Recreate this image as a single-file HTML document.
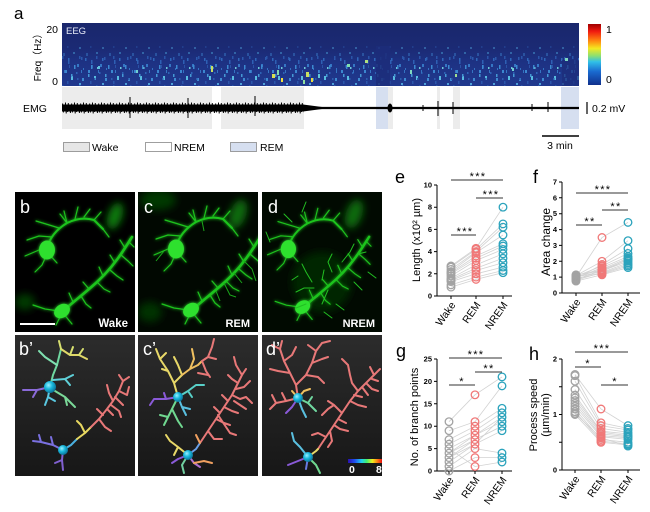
<!DOCTYPE html>
<html><head><meta charset="utf-8">
<style>
html,body{margin:0;padding:0;background:#fff;}
svg{display:block;font-family:"Liberation Sans","Noto Sans CJK SC",sans-serif;}
</style></head>
<body>
<svg width="650" height="512" viewBox="0 0 650 512" xmlns="http://www.w3.org/2000/svg">
<defs>
  <linearGradient id="spg" x1="0" y1="0" x2="0" y2="1">
    <stop offset="0" stop-color="#1a276c"/>
    <stop offset="0.4" stop-color="#1b2a74"/>
    <stop offset="0.6" stop-color="#1d3182"/>
    <stop offset="1" stop-color="#20398e"/>
  </linearGradient>
  <pattern id="spk" width="23" height="36" patternUnits="userSpaceOnUse" x="62" y="50">
    <rect x="1" y="3" width="2" height="3" fill="#3a80cc"/>
    <rect x="6" y="10" width="1.5" height="4" fill="#2e60b4"/>
    <rect x="11" y="2" width="2" height="2" fill="#4aa8dc"/>
    <rect x="15" y="14" width="2" height="3" fill="#3576c4"/>
    <rect x="19" y="7" width="1.5" height="3" fill="#2c58ac"/>
    <rect x="3" y="20" width="2" height="3" fill="#3b86cf"/>
    <rect x="9" y="26" width="2" height="4" fill="#58bce0"/>
    <rect x="14" y="22" width="1.5" height="2" fill="#2e64b6"/>
    <rect x="20" y="28" width="2" height="3" fill="#3d8ad0"/>
    <rect x="5" y="31" width="1.5" height="3" fill="#2b56aa"/>
    <rect x="17" y="33" width="2" height="2" fill="#4da0d8"/>
    <rect x="12" y="17" width="1.5" height="2" fill="#6cc8d8"/>
    <rect x="7" y="15" width="1" height="3" fill="#2a52a6"/>
    <rect x="21" y="18" width="1" height="2" fill="#3370c0"/>
  </pattern>
  <pattern id="spk2" width="17" height="29" patternUnits="userSpaceOnUse" x="66" y="53">
    <rect x="2" y="5" width="1.5" height="3" fill="#2f66b8"/>
    <rect x="8" y="12" width="1.5" height="4" fill="#3c8ad0"/>
    <rect x="13" y="3" width="1.5" height="3" fill="#2a54a8"/>
    <rect x="5" y="21" width="1.5" height="3" fill="#4498d4"/>
    <rect x="11" y="25" width="1.5" height="2" fill="#2c5cae"/>
    <rect x="15" y="17" width="1" height="3" fill="#3474c2"/>
  </pattern>
  <linearGradient id="cbar" x1="0" y1="0" x2="0" y2="1">
    <stop offset="0" stop-color="#a00000"/>
    <stop offset="0.12" stop-color="#f01a10"/>
    <stop offset="0.28" stop-color="#ff8a10"/>
    <stop offset="0.4" stop-color="#f4e820"/>
    <stop offset="0.52" stop-color="#8ee070"/>
    <stop offset="0.62" stop-color="#30c0e8"/>
    <stop offset="0.78" stop-color="#1a6ad0"/>
    <stop offset="1" stop-color="#10308c"/>
  </linearGradient>
  <linearGradient id="hbar" x1="0" y1="0" x2="1" y2="0">
    <stop offset="0" stop-color="#2a10b0"/>
    <stop offset="0.2" stop-color="#2050f0"/>
    <stop offset="0.4" stop-color="#20d0f0"/>
    <stop offset="0.55" stop-color="#40f070"/>
    <stop offset="0.72" stop-color="#f0f020"/>
    <stop offset="0.86" stop-color="#ff8010"/>
    <stop offset="1" stop-color="#e81010"/>
  </linearGradient>
  <pattern id="emgA" width="9" height="16" patternUnits="userSpaceOnUse" x="62" y="100">
    <path d="M0,8 L0.7,3.5 L1.4,12.5 L2.1,5 L2.8,11 L3.5,2.5 L4.2,13.5 L4.9,4.5 L5.6,12 L6.3,3 L7,11.5 L7.7,5.5 L8.4,13 L9,8" stroke="#000" stroke-width="0.9" fill="none"/>
    <rect x="0" y="4.5" width="9" height="7" fill="#000"/>
  </pattern>
  <linearGradient id="tg" x1="0" y1="0" x2="0" y2="1">
    <stop offset="0" stop-color="#2c2c2c"/>
    <stop offset="1" stop-color="#171717"/>
  </linearGradient>
  <radialGradient id="sg" cx="0.38" cy="0.35" r="0.7">
    <stop offset="0" stop-color="#9af0ff"/>
    <stop offset="0.45" stop-color="#18b8dc"/>
    <stop offset="1" stop-color="#0a6a90"/>
  </radialGradient>
  <filter id="glow" x="-20%" y="-20%" width="140%" height="140%">
    <feGaussianBlur stdDeviation="1.6" result="b"/>
    <feMerge><feMergeNode in="b"/><feMergeNode in="SourceGraphic"/></feMerge>
  </filter>
  <filter id="soft" x="-50%" y="-50%" width="200%" height="200%">
    <feGaussianBlur stdDeviation="4"/>
  </filter>
  <g id="mc" fill="none" stroke-linecap="round" stroke-linejoin="round">
    <g stroke="#1fc41f">
      <path stroke-width="2.6" d="M47,120 C58,110 70,101 82,90 C94,79 103,67 110,56 L117,45"/>
      <path stroke-width="2" d="M32,56 C35,45 42,37 52,31 C60,27 69,25 79,28 L88,37"/>
      <path stroke-width="1.2" d="M58,110 L54,101 M66,104 L71,112 M74,97 L68,90 M82,90 L89,97 M88,84 L84,75 M95,78 L102,84 M100,71 L95,63 M106,63 L113,69 M110,56 L105,48 M114,50 L119,55 M52,31 L49,19 M60,27 L63,15 M69,25 L75,17 M44,36 L31,32 L21,29 M37,45 L24,44 L12,48 M79,28 L86,20 M32,62 L27,73 L20,80 M34,62 L42,71 M24,58 L10,64 M47,121 L41,133 M48,121 L57,132 M44,119 L30,117 L18,113 M88,37 L94,45 M52,31 L45,22 M71,112 L76,116 M89,97 L95,100 M102,84 L108,88 M113,69 L118,74"/>
    </g>
    <ellipse cx="32" cy="58" rx="8" ry="9.5" fill="#2ee02e"/>
    <ellipse cx="47" cy="119" rx="8.5" ry="6.5" transform="rotate(-35 47 119)" fill="#2ee02e"/>
  </g>
</defs>

<!-- ===== Panel a ===== -->
<text x="14" y="19" font-size="17">a</text>
<text x="58" y="33" font-size="10.5" text-anchor="end">20</text>
<text x="58" y="85" font-size="10.5" text-anchor="end">0</text>
<text transform="translate(41,55) rotate(-90)" font-size="10" text-anchor="middle">Freq（Hz）</text>

<rect x="62" y="23" width="517" height="63" fill="url(#spg)"/>
<rect x="62" y="56" width="517" height="30" fill="url(#spk)"/>
<rect x="62" y="53" width="517" height="33" fill="url(#spk2)"/>
<rect x="62" y="46" width="517" height="10" fill="url(#spk)" opacity="0.45"/>
<!-- darker gaps -->
<rect x="376" y="46" width="14" height="40" fill="#1c2d7a" opacity="0.85"/>
<rect x="562" y="60" width="17" height="26" fill="#1c2d7a" opacity="0.7"/>
<!-- bright spots -->
<g>
  <rect x="211" y="66" width="2" height="6" fill="#c8e060"/>
  <rect x="272" y="74" width="3" height="4" fill="#d8e050"/>
  <rect x="277" y="70" width="2" height="5" fill="#80d8b0"/>
  <rect x="281" y="78" width="2" height="4" fill="#f0e040"/>
  <rect x="306" y="72" width="3" height="5" fill="#c8e060"/>
  <rect x="311" y="78" width="2" height="4" fill="#e8d840"/>
  <rect x="303" y="80" width="2" height="4" fill="#90e0a0"/>
  <rect x="318" y="74" width="2" height="4" fill="#60c8d8"/>
  <rect x="347" y="64" width="3" height="3" fill="#80e0b0"/>
  <rect x="365" y="60" width="3" height="3" fill="#b0e080"/>
  <rect x="410" y="70" width="2" height="4" fill="#80d8c0"/>
  <rect x="455" y="74" width="2" height="3" fill="#a0e090"/>
  <rect x="512" y="68" width="2" height="3" fill="#70d0d0"/>
  <rect x="565" y="58" width="3" height="3" fill="#80d8c0"/>
  <rect x="136" y="70" width="2" height="3" fill="#70d0d0"/>
  <rect x="98" y="66" width="2" height="3" fill="#60c0e0"/>
</g>
<text x="66" y="34" font-size="9.5" fill="#e8ecf8">EEG</text>

<rect x="588" y="24" width="13" height="61" fill="url(#cbar)"/>
<text x="606" y="33" font-size="10.5">1</text>
<text x="606" y="83" font-size="10.5">0</text>

<!-- state bands -->
<rect x="62" y="87" width="150" height="42" fill="#ececec"/>
<rect x="221" y="87" width="83" height="42" fill="#ececec"/>
<rect x="376" y="87" width="12" height="42" fill="#d6dff0"/>
<rect x="388" y="87" width="5" height="42" fill="#ececec"/>
<rect x="437" y="87" width="3" height="42" fill="#ececec"/>
<rect x="453" y="87" width="7" height="42" fill="#ececec"/>
<rect x="561" y="87" width="18" height="42" fill="#d6dff0"/>

<text x="23" y="112" font-size="10.5">EMG</text>
<!-- EMG trace -->
<rect x="62" y="100" width="242" height="16" fill="url(#emgA)"/>
<polygon points="303,104.5 322,107 322,109 303,111.5" fill="#000"/>
<rect x="212" y="106.5" width="9" height="3" fill="#000"/>
<line x1="304" y1="108" x2="579" y2="108" stroke="#000" stroke-width="2.2"/>
<g stroke="#000" stroke-width="1">
  <line x1="130" y1="97" x2="130" y2="118"/>
  <line x1="255" y1="96" x2="255" y2="116"/>
  <line x1="188" y1="98" x2="188" y2="118"/>
  <line x1="438" y1="101" x2="438" y2="116"/>
  <line x1="453" y1="102" x2="453" y2="114"/>
  <line x1="532" y1="104" x2="532" y2="111"/>
  <line x1="548" y1="102" x2="548" y2="112"/>
  <line x1="423" y1="105" x2="423" y2="111"/>
</g>
<ellipse cx="390" cy="108" rx="2.5" ry="4.5" fill="#000"/>
<line x1="587" y1="102" x2="587" y2="114" stroke="#000" stroke-width="1.2"/>
<text x="592" y="112" font-size="10.5">0.2 mV</text>

<line x1="542" y1="136" x2="579" y2="136" stroke="#000" stroke-width="1.5"/>
<text x="560" y="149" font-size="10.5" text-anchor="middle">3 min</text>

<!-- legend -->
<rect x="63.5" y="142.5" width="26" height="9" fill="#e6e6e6" stroke="#888" stroke-width="0.8"/>
<text x="92" y="151" font-size="10.5">Wake</text>
<rect x="145.5" y="142.5" width="26" height="9" fill="#fff" stroke="#888" stroke-width="0.8"/>
<text x="174" y="151" font-size="10.5">NREM</text>
<rect x="230.5" y="142.5" width="26" height="9" fill="#d6dff0" stroke="#888" stroke-width="0.8"/>
<text x="260" y="151" font-size="10.5">REM</text>

<!-- ===== Micro panels ===== -->
<svg x="15" y="192" width="120" height="140">
  <rect width="120" height="140" fill="#000"/>
  <ellipse cx="100" cy="24" rx="7" ry="14" transform="rotate(20 100 24)" fill="#0e7a0e" filter="url(#soft)"/>
  <ellipse cx="10" cy="110" rx="10" ry="8" fill="#063a06" filter="url(#soft)"/>
  <use href="#mc" filter="url(#glow)"/>
  <line x1="5" y1="132" x2="40" y2="132" stroke="#fff" stroke-width="2"/>
  <text x="5" y="21" font-size="18" fill="#fff">b</text>
  <text x="113" y="135" font-size="11.5" font-weight="bold" fill="#fff" text-anchor="end">Wake</text>
</svg>
<svg x="138" y="192" width="120" height="140">
  <rect width="120" height="140" fill="#010801"/>
  <ellipse cx="100" cy="22" rx="8" ry="15" transform="rotate(20 100 22)" fill="#0e6a0e" filter="url(#soft)"/>
  <ellipse cx="20" cy="8" rx="18" ry="10" fill="#063806" filter="url(#soft)"/>
  <ellipse cx="12" cy="120" rx="12" ry="10" fill="#053005" filter="url(#soft)"/>
  <g transform="translate(6,-1)"><use href="#mc" filter="url(#glow)"/></g>
  <g transform="translate(6,-1)" stroke="#1aa81a" stroke-width="1" fill="none">
    <path d="M80,92 L86,104 L92,106 M90,82 L98,92 M72,100 L76,110 M100,70 L108,78 L112,90 M60,40 L58,30 M20,60 L12,70"/>
  </g>
  <text x="6" y="21" font-size="18" fill="#fff">c</text>
  <text x="112" y="135" font-size="11" font-weight="bold" fill="#fff" text-anchor="end">REM</text>
</svg>
<svg x="262" y="192" width="120" height="140">
  <rect width="120" height="140" fill="#010a01"/>
  <ellipse cx="92" cy="22" rx="8" ry="15" transform="rotate(20 92 22)" fill="#0e6a0e" filter="url(#soft)"/>
  <ellipse cx="60" cy="90" rx="30" ry="30" fill="#042804" filter="url(#soft)"/>
  <g transform="translate(-4,2) scale(0.95)"><use href="#mc" filter="url(#glow)"/></g>
  <g stroke="#22c022" stroke-width="1" fill="none" stroke-linecap="round">
    <path d="M50,90 L44,80 L40,72 M52,96 L42,96 L34,100 M60,88 L62,78 M70,80 L66,70 L70,62 M56,104 L48,110 M66,98 L60,112 M80,70 L88,60 L92,52 M92,90 L100,98 M96,62 L104,60 M36,84 L30,88 M44,112 L34,116 M62,120 L70,126 M74,112 L82,118 M106,80 L114,86 M30,30 L22,22 M40,20 L44,10 M8,50 L4,40"/>
  </g>
  <text x="6" y="21" font-size="18" fill="#fff">d</text>
  <text x="113" y="135" font-size="11" font-weight="bold" fill="#fff" text-anchor="end">NREM</text>
</svg>

<!-- ===== Tracing panels ===== -->
<svg x="15" y="335" width="120" height="141">
  <rect width="120" height="141" fill="url(#tg)"/>
  <g fill="none" stroke-width="2" stroke-linecap="round" stroke-linejoin="round">
    <path stroke="#6fd8a0" d="M35,52 L38,40 L42,30 L46,14"/>
    <path stroke="#7fe0b0" d="M42,30 L30,22 L24,16"/>
    <path stroke="#e0d868" d="M46,14 L55,20 L64,20 L72,24"/>
    <path stroke="#d8e070" d="M55,20 L58,12 M64,20 L68,14 M46,14 L44,6"/>
    <path stroke="#5fd0d8" d="M38,45 L50,44 L58,40 M50,44 L55,50"/>
    <path stroke="#8a6ad8" d="M35,52 L22,55 L8,55 M22,55 L18,62"/>
    <path stroke="#5ac8e0" d="M35,52 L33,62 L30,70 M33,62 L40,66"/>
    <path stroke="#7ad898" d="M40,56 L50,62 L60,72 M50,62 L52,70"/>
    <path stroke="#7a70e0" d="M48,115 L38,110 L26,107 L18,106 M38,110 L36,102 M26,107 L24,100"/>
    <path stroke="#8060d0" d="M48,115 L47,125 L48,135 M47,125 L40,128"/>
    <path stroke="#4ab0e0" d="M48,115 L56,110 L62,104"/>
    <path stroke="#e8d860" d="M62,104 L70,98 L76,92 M70,98 L66,90 L62,86"/>
    <path stroke="#e87878" d="M76,92 L84,84 L92,74 L98,66 L104,56 L108,46 M84,84 L90,92 L96,96 M92,74 L98,80 M98,66 L94,58 L92,50 M104,56 L112,60 M108,46 L104,40 M100,62 L108,70 M88,80 L82,74 M108,46 L114,42 M96,70 L104,76 L106,82 M112,60 L114,52"/>
  </g>
  <circle cx="35" cy="52" r="6" fill="url(#sg)"/>
  <circle cx="48" cy="115" r="5" fill="url(#sg)"/>
  <text x="4" y="20" font-size="18" fill="#fff">b’</text>
</svg>
<svg x="138" y="335" width="120" height="141">
  <rect width="120" height="141" fill="url(#tg)"/>
  <g fill="none" stroke-width="2" stroke-linecap="round" stroke-linejoin="round">
    <path stroke="#e8d868" d="M40,62 L36,48 L30,36 L22,24 L18,14 M30,36 L24,34 M22,24 L28,18 M36,48 L44,40 L40,30 L36,22"/>
    <path stroke="#f0c060" d="M44,40 L52,34 L56,24 L54,14 M52,34 L60,30 L64,26"/>
    <path stroke="#e87878" d="M64,26 L70,22 L74,12 L76,4 M70,22 L78,24 M64,26 L68,36 L72,42 M60,38 L70,40"/>
    <path stroke="#58d0c8" d="M40,62 L50,56 L58,50 L66,50 M50,56 L54,62"/>
    <path stroke="#8a5ad8" d="M40,62 L28,64 L16,64 L12,70 M28,64 L26,58"/>
    <path stroke="#5ac0e0" d="M40,62 L44,72 L48,80 M44,72 L52,74"/>
    <path stroke="#70d890" d="M40,62 L34,74 L30,82 L26,90 M34,74 L40,86 L44,92 M30,82 L22,80"/>
    <path stroke="#e87878" d="M62,108 L70,96 L78,84 L86,72 L94,60 L100,48 L104,40 M78,84 L86,88 L92,90 M86,72 L94,76 L100,78 M94,60 L102,64 L108,62 M100,48 L94,44 L90,40 M70,96 L76,104 L84,104 M82,78 L76,72 M90,66 L84,60 M98,54 L106,52 L112,46 M104,40 L108,34 M80,80 L92,98 L98,100 M96,66 L108,74 M104,40 L98,30 L96,22 M108,62 L114,68"/>
    <path stroke="#6aa0e8" d="M50,120 L58,114 L62,108"/>
    <path stroke="#e8d868" d="M50,120 L40,112 L32,106 L28,100 M40,112 L36,120"/>
    <path stroke="#b070d0" d="M50,120 L56,128 L62,132"/>
    <path stroke="#f0a060" d="M56,128 L66,126 L74,128 M62,108 L58,100"/>
    <path stroke="#70d0a0" d="M50,120 L44,130 L46,138"/>
    <path stroke="#8a5ad8" d="M50,120 L40,124 L34,128"/>
  </g>
  <circle cx="40" cy="62" r="5" fill="url(#sg)"/>
  <circle cx="50" cy="120" r="5" fill="url(#sg)"/>
  <text x="5" y="20" font-size="18" fill="#fff">c’</text>
</svg>
<svg x="262" y="335" width="120" height="141">
  <rect width="120" height="141" fill="url(#tg)"/>
  <g fill="none" stroke-width="2" stroke-linecap="round" stroke-linejoin="round">
    <path stroke="#e87878" d="M36,63 L34,50 L28,38 L22,26 L18,14 L20,6 M28,38 L16,36 L8,34 M22,26 L30,20 L34,12 M34,50 L44,40 L50,28 L54,16 L60,8 M50,28 L60,24 L66,22 M44,40 L56,42 L62,48 M54,16 L46,10 M60,8 L68,6 M18,14 L10,10"/>
    <path stroke="#e87878" d="M36,63 L24,66 L14,68 L8,74 M24,66 L20,58 M14,68 L10,60"/>
    <path stroke="#f0c060" d="M36,63 L42,56 L48,54 M36,63 L30,56"/>
    <path stroke="#70d8a0" d="M36,63 L46,68 L54,76 M46,68 L50,62"/>
    <path stroke="#5ac0e0" d="M36,63 L40,74 L44,82"/>
    <path stroke="#8a5ad8" d="M36,63 L30,72 L24,78"/>
    <path stroke="#e87878" d="M56,114 L64,102 L72,90 L80,78 L88,66 L96,56 L104,48 L112,40 L118,34 M72,90 L78,94 L86,96 M80,78 L72,70 L66,66 M88,66 L96,70 L104,72 M96,56 L90,48 L88,40 L86,30 M104,48 L110,54 L116,56 M112,40 L108,32 M64,102 L56,98 L50,100 M76,84 L84,88 M60,80 L66,74 L72,70 M92,60 L100,62 M86,30 L80,24 M68,96 L70,106 L66,112 M100,52 L106,60 M110,44 L116,46"/>
    <path stroke="#e8d868" d="M46,122 L54,116 L56,114"/>
    <path stroke="#5ac0e0" d="M46,122 L38,112 L32,106 L30,98"/>
    <path stroke="#8a5ad8" d="M46,122 L36,126 L26,130"/>
    <path stroke="#70d890" d="M46,122 L54,130 L58,138"/>
    <path stroke="#6a7ae0" d="M46,122 L44,134"/>
  </g>
  <circle cx="36" cy="63" r="5" fill="url(#sg)"/>
  <circle cx="46" cy="122" r="5" fill="url(#sg)"/>
  <rect x="86" y="124" width="34" height="4" fill="url(#hbar)"/>
  <text x="87" y="138" font-size="10.5" font-weight="bold" fill="#fff">0</text>
  <text x="114" y="138" font-size="10.5" font-weight="bold" fill="#fff">8</text>
  <text x="4" y="20" font-size="18" fill="#fff">d’</text>
</svg>

<!-- ===== Chart e ===== -->
<text x="395" y="183" font-size="18">e</text>
<text transform="translate(420,240) rotate(-90)" font-size="11" text-anchor="middle">Length (x10² µm)</text>
<g stroke="#000" stroke-width="1" fill="none">
  <line x1="437" y1="185" x2="437" y2="296"/>
  <line x1="437" y1="296" x2="512" y2="296"/>
  <path d="M434,296H437M434,273.8H437M434,251.6H437M434,229.4H437M434,207.2H437M434,185H437M451,296V299M476,296V299M503,296V299"/>
</g>
<g font-size="7.5" font-weight="bold" text-anchor="end">
  <text x="432" y="298.5">0</text><text x="432" y="276.3">2</text><text x="432" y="254.1">4</text>
  <text x="432" y="231.9">6</text><text x="432" y="209.7">8</text><text x="432" y="187.5">10</text>
</g>
<g stroke="#d2d2d2" stroke-width="0.8" fill="none">
  <polyline points="451,287.1 476,279.4 503,272.7"/>
  <polyline points="451,284.9 476,277.1 503,270.5"/>
  <polyline points="451,281.6 476,273.8 503,267.1"/>
  <polyline points="451,280.5 476,270.5 503,262.7"/>
  <polyline points="451,279.4 476,268.3 503,258.3"/>
  <polyline points="451,278.2 476,264.9 503,253.8"/>
  <polyline points="451,276.0 476,260.5 503,249.4"/>
  <polyline points="451,273.8 476,258.3 503,246.0"/>
  <polyline points="451,272.7 476,256.0 503,243.8"/>
  <polyline points="451,271.6 476,252.7 503,235.0"/>
  <polyline points="451,269.4 476,251.6 503,227.2"/>
  <polyline points="451,267.1 476,249.4 503,223.9"/>
  <polyline points="451,266.0 476,248.3 503,207.2"/>
</g>
<g fill="none" stroke-width="1.3">
  <g stroke="#a3a3a3">
    <circle cx="451" cy="287.1" r="3.8"/><circle cx="451" cy="284.9" r="3.8"/><circle cx="451" cy="281.6" r="3.8"/>
    <circle cx="451" cy="280.5" r="3.8"/><circle cx="451" cy="279.4" r="3.8"/><circle cx="451" cy="278.2" r="3.8"/>
    <circle cx="451" cy="276.0" r="3.8"/><circle cx="451" cy="273.8" r="3.8"/><circle cx="451" cy="272.7" r="3.8"/>
    <circle cx="451" cy="271.6" r="3.8"/><circle cx="451" cy="269.4" r="3.8"/><circle cx="451" cy="267.1" r="3.8"/>
    <circle cx="451" cy="266.0" r="3.8"/>
  </g>
  <g stroke="#f07878">
    <circle cx="476" cy="279.4" r="3.8"/><circle cx="476" cy="277.1" r="3.8"/><circle cx="476" cy="273.8" r="3.8"/>
    <circle cx="476" cy="270.5" r="3.8"/><circle cx="476" cy="268.3" r="3.8"/><circle cx="476" cy="264.9" r="3.8"/>
    <circle cx="476" cy="260.5" r="3.8"/><circle cx="476" cy="258.3" r="3.8"/><circle cx="476" cy="256.0" r="3.8"/>
    <circle cx="476" cy="252.7" r="3.8"/><circle cx="476" cy="251.6" r="3.8"/><circle cx="476" cy="249.4" r="3.8"/>
    <circle cx="476" cy="248.3" r="3.8"/>
  </g>
  <g stroke="#2ba3bc">
    <circle cx="503" cy="272.7" r="3.8"/><circle cx="503" cy="270.5" r="3.8"/><circle cx="503" cy="267.1" r="3.8"/>
    <circle cx="503" cy="262.7" r="3.8"/><circle cx="503" cy="258.3" r="3.8"/><circle cx="503" cy="253.8" r="3.8"/>
    <circle cx="503" cy="249.4" r="3.8"/><circle cx="503" cy="246.0" r="3.8"/><circle cx="503" cy="243.8" r="3.8"/>
    <circle cx="503" cy="235.0" r="3.8"/><circle cx="503" cy="227.2" r="3.8"/><circle cx="503" cy="223.9" r="3.8"/>
    <circle cx="503" cy="207.2" r="3.8"/>
  </g>
</g>
<g stroke="#333" stroke-width="1">
  <line x1="451" y1="180" x2="503" y2="180"/>
  <line x1="476" y1="198" x2="503" y2="198"/>
  <line x1="451" y1="235" x2="476" y2="235"/>
</g>
<g font-size="11" text-anchor="middle" letter-spacing="1.3">
  <text x="478" y="180">***</text>
  <text x="491" y="198">***</text>
  <text x="465" y="235">***</text>
</g>
<g font-size="10.5" text-anchor="end">
  <text transform="translate(456,305) rotate(-55)">Wake</text>
  <text transform="translate(481,305) rotate(-55)">REM</text>
  <text transform="translate(508,305) rotate(-55)">NREM</text>
</g>

<!-- ===== Chart f ===== -->
<text x="533" y="183" font-size="18">f</text>
<text transform="translate(550,242) rotate(-90)" font-size="12" text-anchor="middle">Area change</text>
<g stroke="#000" stroke-width="1" fill="none">
  <line x1="562" y1="182" x2="562" y2="293"/>
  <line x1="562" y1="293" x2="640" y2="293"/>
  <path d="M559,293H562M559,277.1H562M559,261.3H562M559,245.4H562M559,229.6H562M559,213.7H562M559,197.8H562M559,182H562M576,293V296M602,293V296M628,293V296"/>
</g>
<g font-size="7.5" font-weight="bold" text-anchor="end">
  <text x="557" y="295.5">0</text><text x="557" y="279.6">1</text><text x="557" y="263.8">2</text>
  <text x="557" y="247.9">3</text><text x="557" y="232.1">4</text><text x="557" y="216.2">5</text>
  <text x="557" y="200.3">6</text><text x="557" y="184.5">7</text>
</g>
<g stroke="#d2d2d2" stroke-width="0.8" fill="none">
  <polyline points="576,277.1 602,237.5 628,222.4"/>
  <polyline points="576,275.6 602,261.3 628,240.7"/>
  <polyline points="576,278.7 602,264.5 628,248.6"/>
  <polyline points="576,276.3 602,266.0 628,253.4"/>
  <polyline points="576,277.9 602,267.6 628,256.5"/>
  <polyline points="576,277.1 602,269.2 628,258.1"/>
  <polyline points="576,279.5 602,270.0 628,259.7"/>
  <polyline points="576,274.8 602,270.8 628,261.3"/>
  <polyline points="576,280.3 602,272.4 628,262.9"/>
  <polyline points="576,278.7 602,273.2 628,264.5"/>
  <polyline points="576,275.6 602,274.0 628,266.0"/>
  <polyline points="576,281.1 602,274.8 628,267.6"/>
  <polyline points="576,277.1 602,271.6 628,258.9"/>
</g>
<g fill="none" stroke-width="1.3">
  <g stroke="#a3a3a3">
    <circle cx="576" cy="277.1" r="3.8"/><circle cx="576" cy="275.6" r="3.8"/><circle cx="576" cy="278.7" r="3.8"/>
    <circle cx="576" cy="276.3" r="3.8"/><circle cx="576" cy="277.9" r="3.8"/><circle cx="576" cy="279.5" r="3.8"/>
    <circle cx="576" cy="274.8" r="3.8"/><circle cx="576" cy="280.3" r="3.8"/><circle cx="576" cy="281.1" r="3.8"/>
  </g>
  <g stroke="#f07878">
    <circle cx="602" cy="237.5" r="3.8"/><circle cx="602" cy="261.3" r="3.8"/><circle cx="602" cy="264.5" r="3.8"/>
    <circle cx="602" cy="266.0" r="3.8"/><circle cx="602" cy="267.6" r="3.8"/><circle cx="602" cy="269.2" r="3.8"/>
    <circle cx="602" cy="270.0" r="3.8"/><circle cx="602" cy="270.8" r="3.8"/><circle cx="602" cy="272.4" r="3.8"/>
    <circle cx="602" cy="273.2" r="3.8"/><circle cx="602" cy="274.0" r="3.8"/><circle cx="602" cy="274.8" r="3.8"/>
    <circle cx="602" cy="271.6" r="3.8"/>
  </g>
  <g stroke="#2ba3bc">
    <circle cx="628" cy="222.4" r="3.8"/><circle cx="628" cy="240.7" r="3.8"/><circle cx="628" cy="248.6" r="3.8"/>
    <circle cx="628" cy="253.4" r="3.8"/><circle cx="628" cy="256.5" r="3.8"/><circle cx="628" cy="258.1" r="3.8"/>
    <circle cx="628" cy="259.7" r="3.8"/><circle cx="628" cy="261.3" r="3.8"/><circle cx="628" cy="262.9" r="3.8"/>
    <circle cx="628" cy="264.5" r="3.8"/><circle cx="628" cy="266.0" r="3.8"/><circle cx="628" cy="267.6" r="3.8"/>
    <circle cx="628" cy="258.9" r="3.8"/>
  </g>
</g>
<g stroke="#333" stroke-width="1">
  <line x1="576" y1="193" x2="628" y2="193"/>
  <line x1="602" y1="210" x2="628" y2="210"/>
  <line x1="576" y1="225" x2="602" y2="225"/>
</g>
<g font-size="11" text-anchor="middle" letter-spacing="1.3">
  <text x="603" y="193">***</text>
  <text x="616" y="210">**</text>
  <text x="590" y="225">**</text>
</g>
<g font-size="10.5" text-anchor="end">
  <text transform="translate(581,302) rotate(-55)">Wake</text>
  <text transform="translate(607,302) rotate(-55)">REM</text>
  <text transform="translate(633,302) rotate(-55)">NREM</text>
</g>

<!-- ===== Chart g ===== -->
<text x="396" y="357" font-size="18">g</text>
<text transform="translate(418,417) rotate(-90)" font-size="11" text-anchor="middle">No. of branch points</text>
<g stroke="#000" stroke-width="1" fill="none">
  <line x1="437" y1="359" x2="437" y2="471"/>
  <line x1="437" y1="471" x2="512" y2="471"/>
  <path d="M434,471H437M434,448.6H437M434,426.2H437M434,403.8H437M434,381.4H437M434,359H437M449,471V474M475,471V474M502,471V474"/>
</g>
<g font-size="7.5" font-weight="bold" text-anchor="end">
  <text x="432" y="473.5">0</text><text x="432" y="451.1">5</text><text x="432" y="428.7">10</text>
  <text x="432" y="406.3">15</text><text x="432" y="383.9">20</text><text x="432" y="361.5">25</text>
</g>
<g stroke="#d2d2d2" stroke-width="0.8" fill="none">
  <polyline points="449,421.7 475,394.8 502,376.9"/>
  <polyline points="449,430.7 475,421.7 502,385.9"/>
  <polyline points="449,439.6 475,426.2 502,408.3"/>
  <polyline points="449,444.1 475,430.7 502,412.8"/>
  <polyline points="449,448.6 475,435.2 502,417.2"/>
  <polyline points="449,453.1 475,435.2 502,421.7"/>
  <polyline points="449,453.1 475,439.6 502,426.2"/>
  <polyline points="449,457.6 475,439.6 502,426.2"/>
  <polyline points="449,457.6 475,444.1 502,430.7"/>
  <polyline points="449,462.0 475,444.1 502,417.2"/>
  <polyline points="449,466.5 475,448.6 502,453.1"/>
  <polyline points="449,471 475,457.6 502,457.6"/>
  <polyline points="449,448.6 475,466.5 502,462.0"/>
</g>
<g fill="none" stroke-width="1.3">
  <g stroke="#a3a3a3">
    <circle cx="449" cy="421.7" r="3.8"/><circle cx="449" cy="430.7" r="3.8"/><circle cx="449" cy="439.6" r="3.8"/>
    <circle cx="449" cy="444.1" r="3.8"/><circle cx="449" cy="448.6" r="3.8"/><circle cx="449" cy="453.1" r="3.8"/>
    <circle cx="449" cy="457.6" r="3.8"/><circle cx="449" cy="462.0" r="3.8"/><circle cx="449" cy="466.5" r="3.8"/>
    <circle cx="449" cy="471" r="3.8"/>
  </g>
  <g stroke="#f07878">
    <circle cx="475" cy="394.8" r="3.8"/><circle cx="475" cy="421.7" r="3.8"/><circle cx="475" cy="426.2" r="3.8"/>
    <circle cx="475" cy="430.7" r="3.8"/><circle cx="475" cy="435.2" r="3.8"/><circle cx="475" cy="439.6" r="3.8"/>
    <circle cx="475" cy="444.1" r="3.8"/><circle cx="475" cy="448.6" r="3.8"/><circle cx="475" cy="457.6" r="3.8"/>
    <circle cx="475" cy="466.5" r="3.8"/>
  </g>
  <g stroke="#2ba3bc">
    <circle cx="502" cy="376.9" r="3.8"/><circle cx="502" cy="385.9" r="3.8"/><circle cx="502" cy="408.3" r="3.8"/>
    <circle cx="502" cy="412.8" r="3.8"/><circle cx="502" cy="417.2" r="3.8"/><circle cx="502" cy="421.7" r="3.8"/>
    <circle cx="502" cy="426.2" r="3.8"/><circle cx="502" cy="430.7" r="3.8"/><circle cx="502" cy="453.1" r="3.8"/>
    <circle cx="502" cy="457.6" r="3.8"/><circle cx="502" cy="462.0" r="3.8"/>
  </g>
</g>
<g stroke="#333" stroke-width="1">
  <line x1="449" y1="358" x2="502" y2="358"/>
  <line x1="475" y1="372" x2="502" y2="372"/>
  <line x1="449" y1="385" x2="475" y2="385"/>
</g>
<g font-size="11" text-anchor="middle" letter-spacing="1.3">
  <text x="476" y="358">***</text>
  <text x="489" y="372">**</text>
  <text x="462" y="385">*</text>
</g>
<g font-size="10.5" text-anchor="end">
  <text transform="translate(454,480) rotate(-55)">Wake</text>
  <text transform="translate(480,480) rotate(-55)">REM</text>
  <text transform="translate(507,480) rotate(-55)">NREM</text>
</g>

<!-- ===== Chart h ===== -->
<text x="529" y="360" font-size="18">h</text>
<text transform="translate(537,415) rotate(-90)" font-size="11" text-anchor="middle">Process speed</text>
<text transform="translate(549,415) rotate(-90)" font-size="11" text-anchor="middle">(µm/min)</text>
<g stroke="#000" stroke-width="1" fill="none">
  <line x1="562" y1="359" x2="562" y2="470"/>
  <line x1="562" y1="470" x2="640" y2="470"/>
  <path d="M559,470H562M559,442.3H562M559,414.5H562M559,386.8H562M559,359H562M575,470V473M601,470V473M628,470V473"/>
</g>
<g font-size="7.5" font-weight="bold" text-anchor="end">
  <text x="557" y="472.5">0</text><text x="557" y="417">1</text><text x="557" y="361.5">2</text>
</g>
<g stroke="#d2d2d2" stroke-width="0.8" fill="none">
  <polyline points="575,374.5 601,409.0 628,425.6"/>
  <polyline points="575,375.7 601,422.8 628,428.4"/>
  <polyline points="575,381.2 601,425.6 628,430.0"/>
  <polyline points="575,389.5 601,428.4 628,432.3"/>
  <polyline points="575,395.1 601,431.2 628,433.9"/>
  <polyline points="575,397.9 601,432.3 628,435.6"/>
  <polyline points="575,400.6 601,433.9 628,436.7"/>
  <polyline points="575,403.4 601,435.6 628,437.8"/>
  <polyline points="575,406.2 601,436.7 628,439.5"/>
  <polyline points="575,409.0 601,439.5 628,442.3"/>
  <polyline points="575,411.7 601,441.1 628,443.9"/>
  <polyline points="575,414.5 601,442.3 628,445.0"/>
  <polyline points="575,413.4 601,437.8 628,446.1"/>
</g>
<g fill="none" stroke-width="1.3">
  <g stroke="#a3a3a3">
    <circle cx="575" cy="374.5" r="3.8"/><circle cx="575" cy="375.7" r="3.8"/><circle cx="575" cy="381.2" r="3.8"/>
    <circle cx="575" cy="389.5" r="3.8"/><circle cx="575" cy="395.1" r="3.8"/><circle cx="575" cy="397.9" r="3.8"/>
    <circle cx="575" cy="400.6" r="3.8"/><circle cx="575" cy="403.4" r="3.8"/><circle cx="575" cy="406.2" r="3.8"/>
    <circle cx="575" cy="409.0" r="3.8"/><circle cx="575" cy="411.7" r="3.8"/><circle cx="575" cy="414.5" r="3.8"/>
    <circle cx="575" cy="413.4" r="3.8"/>
  </g>
  <g stroke="#f07878">
    <circle cx="601" cy="409.0" r="3.8"/><circle cx="601" cy="422.8" r="3.8"/><circle cx="601" cy="425.6" r="3.8"/>
    <circle cx="601" cy="428.4" r="3.8"/><circle cx="601" cy="431.2" r="3.8"/><circle cx="601" cy="432.3" r="3.8"/>
    <circle cx="601" cy="433.9" r="3.8"/><circle cx="601" cy="435.6" r="3.8"/><circle cx="601" cy="436.7" r="3.8"/>
    <circle cx="601" cy="439.5" r="3.8"/><circle cx="601" cy="441.1" r="3.8"/><circle cx="601" cy="442.3" r="3.8"/>
    <circle cx="601" cy="437.8" r="3.8"/>
  </g>
  <g stroke="#2ba3bc">
    <circle cx="628" cy="425.6" r="3.8"/><circle cx="628" cy="428.4" r="3.8"/><circle cx="628" cy="430.0" r="3.8"/>
    <circle cx="628" cy="432.3" r="3.8"/><circle cx="628" cy="433.9" r="3.8"/><circle cx="628" cy="435.6" r="3.8"/>
    <circle cx="628" cy="436.7" r="3.8"/><circle cx="628" cy="437.8" r="3.8"/><circle cx="628" cy="439.5" r="3.8"/>
    <circle cx="628" cy="442.3" r="3.8"/><circle cx="628" cy="443.9" r="3.8"/><circle cx="628" cy="445.0" r="3.8"/>
    <circle cx="628" cy="446.1" r="3.8"/>
  </g>
</g>
<g stroke="#333" stroke-width="1">
  <line x1="575" y1="352" x2="628" y2="352"/>
  <line x1="575" y1="367" x2="601" y2="367"/>
  <line x1="601" y1="385" x2="628" y2="385"/>
</g>
<g font-size="11" text-anchor="middle" letter-spacing="1.3">
  <text x="602" y="352">***</text>
  <text x="588" y="367">*</text>
  <text x="615" y="385">*</text>
</g>
<g font-size="10.5" text-anchor="end">
  <text transform="translate(580,479) rotate(-55)">Wake</text>
  <text transform="translate(606,479) rotate(-55)">REM</text>
  <text transform="translate(633,479) rotate(-55)">NREM</text>
</g>
</svg>
</body></html>
